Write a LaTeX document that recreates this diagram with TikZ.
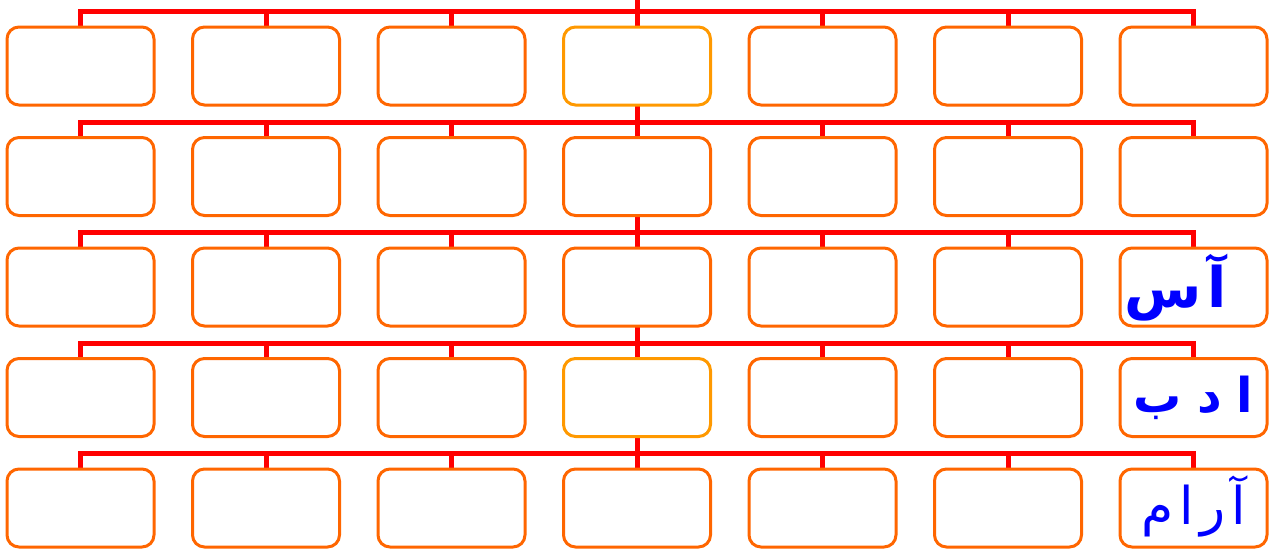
\documentclass[tikz,border=0pt]{standalone}
\usepackage{fontspec}
\newfontfamily\arabicfont[Script=Arabic]{DejaVu Sans}
\TeXXeTstate=1
\usetikzlibrary{backgrounds}
\definecolor{cred}{HTML}{FF0000}
\definecolor{corange}{HTML}{FF6600}
\definecolor{camber}{HTML}{FF9900}
\definecolor{cblue}{HTML}{0000FF}
\tikzset{
  every picture/.style={line width=3pt},
  cell/.style={draw=#1, fill=white, rounded corners=12pt, minimum width=147pt, minimum height=78pt, inner sep=0pt},
  cell/.default=corange,
  link/.style={draw=cred, line width=5pt},
  word/.style={text=cblue, inner sep=0pt, font=\arabicfont\bfseries\fontsize{#1}{#1}\selectfont},
  thinword/.style={text=cblue, inner sep=0pt, font=\arabicfont\fontsize{#1}{#1}\selectfont},
}

\begin{document}
\begin{tikzpicture}[x=1pt, y=-1pt]
  \useasboundingbox (0,0) rectangle (1275,549);
  \coordinate (top) at (637,0);
  \foreach \r in {1,...,5}
    \foreach \c in {1,...,7}{
      \def\hue{corange}
      \ifnum\c=4 \ifnum\r=1 \def\hue{camber}\fi \ifnum\r=4 \def\hue{camber}\fi \fi
      \node[cell=\hue] (b-\r-\c) at ({80.5+185.5*(\c-1)}, {66+110.5*(\r-1)}) {};
    }
  \node[word=56, xshift=-18pt, yshift=-1pt] (w-3) at (b-3-7) {\beginR آ\kern6pt س\endR};
  \node[word=48] (w-4) at (b-4-7) {\beginR ا\kern15pt د\kern15pt ب\endR};
  \node[thinword=52, yshift=2pt] (w-5) at (b-5-7) {\beginR آ\kern6pt ر\kern6pt ا\kern6pt م\endR};
  \begin{scope}[on background layer]
    \draw[link] (top) -- (b-5-4.north);
    \foreach \r in {1,...,5}{
      \draw[link] (b-\r-1.north) -- ++(0,-14) -| (b-\r-7.north);
      \foreach \c in {2,...,6} \draw[link] (b-\r-\c.north) -- ++(0,-14);
    }
  \end{scope}
\end{tikzpicture}
\end{document}
